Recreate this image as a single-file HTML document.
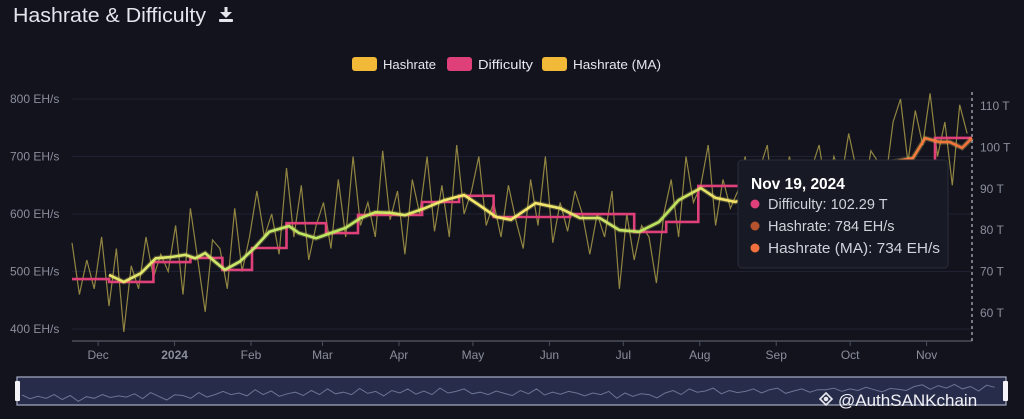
<!DOCTYPE html>
<html><head><meta charset="utf-8"><style>
html,body{margin:0;padding:0;background:#12131d;width:1024px;height:419px;overflow:hidden;font-family:"Liberation Sans",sans-serif}
svg{display:block}
</style></head><body>
<svg id="chart" width="1024" height="419" viewBox="0 0 1024 419" xmlns="http://www.w3.org/2000/svg">
<defs>
<linearGradient id="maGrad" gradientUnits="userSpaceOnUse" x1="72" y1="0" x2="972" y2="0">
<stop offset="0" stop-color="#f4e36a"/><stop offset="0.18" stop-color="#c9e86a"/><stop offset="0.3" stop-color="#b8e65e"/>
<stop offset="0.42" stop-color="#f3e96a"/><stop offset="0.52" stop-color="#f5e66e"/><stop offset="0.6" stop-color="#c8e466"/>
<stop offset="0.66" stop-color="#b6e25c"/><stop offset="0.72" stop-color="#f1e36a"/><stop offset="0.86" stop-color="#f5b24a"/>
<stop offset="0.92" stop-color="#f57e3e"/><stop offset="1" stop-color="#f2703c"/></linearGradient>
</defs>
<text x="13" y="22" fill="#e4e6ec" font-size="20.5" textLength="193" lengthAdjust="spacingAndGlyphs">Hashrate &amp; Difficulty</text>
<g fill="#e4e6ec"><rect x="224.5" y="7" width="3" height="8"/><polygon points="220,12 232,12 226,18"/><rect x="219" y="19" width="14" height="3" rx="1"/></g>
<g id="legend"></g>
<g id="grid"></g>
<g id="plot"></g>
<g id="tooltip">
<rect x="738" y="160" width="210" height="108" rx="4" fill="#171a24" stroke="#2a2e3a"/>
<text x="751" y="189" fill="#ffffff" font-size="15.5" font-weight="bold">Nov 19, 2024</text>
<circle cx="755" cy="204" r="4.5" fill="#e0407a"/><text x="768" y="209" fill="#cfd2da" font-size="14.5">Difficulty: 102.29 T</text>
<circle cx="755" cy="226" r="4.5" fill="#b5532e"/><text x="768" y="231" fill="#cfd2da" font-size="14.5">Hashrate: 784 EH/s</text>
<circle cx="755" cy="248" r="4.5" fill="#f2703c"/><text x="768" y="253" fill="#cfd2da" font-size="14.5" textLength="172" lengthAdjust="spacingAndGlyphs">Hashrate (MA): 734 EH/s</text>
</g>
<g id="nav"></g>
<g>
<g fill="none" stroke="#e8e8ee" stroke-width="1.6"><polygon points="826,393 832,399 826,405 820,399"/><circle cx="826" cy="399" r="1.5" fill="#e8e8ee"/></g>
<text x="838" y="406" fill="#f2f2f6" font-size="17">@AuthSANKchain</text></g>
</svg>
<script>
const startDate = "2023-11-20";
const monthLabels = ["Dec","2024","Feb","Mar","Apr","May","Jun","Jul","Aug","Sep","Oct","Nov"];
const monthDays = [10.6,41.6,72.6,101.6,132.6,162.6,193.6,223.6,254.6,285.6,315.6,346.6];
const leftTicks = [400,500,600,700,800];
const rightTicks = [60,70,80,90,100,110];
const hashStep = 3;
const hashrate = [550,460,520,470,560,440,540,395,510,470,
560,490,530,500,580,460,610,520,430,555,
540,470,610,500,560,640,560,600,530,680,
560,650,520,580,620,540,660,560,700,580,
620,560,710,590,640,530,660,600,700,570,
650,560,720,600,640,700,580,620,560,650,
590,540,660,580,700,550,620,570,640,600,
530,600,560,640,470,600,520,580,560,480,
600,660,560,700,620,650,720,580,660,610,
640,700,600,680,720,590,650,700,620,680,
680,720,640,700,660,740,680,630,710,690,
660,760,800,690,780,720,810,700,760,650,
790,740];
const maDays = [15,21,28,34,40,46,50,54,58,62,68,74,80,88,92,99,105,111,117,123,129,135,143,151,159,165,172,178,188,198,206,214,222,230,238,246,255,261,269,280,295,310,325,341,346,352,356,361,365];
const maValues = [494,482,497,523,525,529,523,532,517,503,517,541,569,579,567,558,567,576,593,603,602,598,610,624,633,616,595,590,619,610,593,593,572,569,586,624,645,628,621,635,655,670,685,697,732,725,725,715,732];
const diffDays = [0,15,33,48,61,73,87,103,116,142,157,171,202,228,241,254,282,296,310,324,338,350];
const diffValues = [68.2,67.5,72.3,73.3,70.4,75.7,81.7,79.3,83.7,86.8,88.3,83.2,83.9,79.6,82.0,90.7,89.5,92.0,88.4,92.0,95.7,102.3];

const NS="http://www.w3.org/2000/svg";
const X0=72,X1=972,DAYS=365;
const xs=d=>X0+(X1-X0)*d/DAYS;
const yl=v=>99+(800-v)*(329-99)/400;
const yr=t=>106+(110-t)*(313-106)/50;
function mk(tag,attrs,parent){const e=document.createElementNS(NS,tag);for(const k in attrs)e.setAttribute(k,attrs[k]);parent.appendChild(e);return e;}
const grid=document.getElementById('grid'),plot=document.getElementById('plot'),nav=document.getElementById('nav'),legend=document.getElementById('legend');

// legend
const leg=[["Hashrate","#f2b938",352,53],["Difficulty","#e0407a",447,55],["Hashrate (MA)","#f2b938",542,88]];
leg.forEach(l=>{const g=mk('g',{},legend);


mk('rect',{x:l[2],y:57,width:25,height:14,rx:3,fill:l[1]},g);
mk('text',{x:l[2]+31,y:69,fill:'#e6e8ee','font-size':12.5,textLength:l[3],lengthAdjust:'spacingAndGlyphs'},g).textContent=l[0];});

// grid + left axis
leftTicks.forEach(v=>{const y=yl(v);
const ln=mk('line',{x1:X0,x2:X1,y1:y,y2:y,stroke:'#1f2232','stroke-width':1},grid);


const t=mk('text',{x:10,y:y+4,fill:'#8a8e9c','font-size':12},grid);


t.textContent=v+" EH/s";});
rightTicks.forEach(v=>{const t=mk('text',{x:980,y:yr(v)+4,fill:'#8a8e9c','font-size':12},grid);


t.textContent=v+" T";});
const ax=mk('line',{x1:X0,x2:X1,y1:341,y2:341,stroke:'#4a4e5c','stroke-width':1.5},grid);


monthLabels.forEach((m,i)=>{const x=xs(monthDays[i]);
mk('line',{x1:x,x2:x,y1:341,y2:346,stroke:'#4a4e5c'},grid);
const t=mk('text',{x:x,y:359,fill:'#8a8e9c','font-size':12,'text-anchor':'middle','font-weight':m==='2024'?'bold':'normal'},grid);


t.textContent=m;});
const dash=mk('line',{x1:X1,x2:X1,y1:92,y2:341,stroke:'#b8bcc8','stroke-dasharray':'3,3','stroke-width':1.2},grid);



// hashrate raw
let d='';hashrate.forEach((v,i)=>{d+=(i?'L':'M')+xs(i*hashStep).toFixed(1)+','+yl(v).toFixed(1);});
const hp=mk('path',{d:d,fill:'none',stroke:'#a89a48','stroke-width':1.2,'stroke-opacity':0.85},plot);



// difficulty steps
d='';diffDays.forEach((dd,i)=>{const x=xs(dd),y=yr(diffValues[i]);d+=(i?'L'+x.toFixed(1)+','+yr(diffValues[i-1]).toFixed(1)+'L':'M')+x.toFixed(1)+','+y.toFixed(1);});
d+='L'+xs(DAYS)+','+yr(diffValues[diffValues.length-1]).toFixed(1);
const dp=mk('path',{d:d,fill:'none',stroke:'#e0407a','stroke-width':2.6},plot);



// MA
d='';maDays.forEach((dd,i)=>{d+=(i?'L':'M')+xs(dd).toFixed(1)+','+yl(maValues[i]).toFixed(1);});
mk('path',{d:d,fill:'none',stroke:'#f5e66e','stroke-width':5,'stroke-opacity':0.25},plot);
const mp=mk('path',{d:d,fill:'none',stroke:'url(#maGrad)','stroke-width':2.6},plot);



// navigator
const nb=mk('rect',{x:17,y:377,width:989,height:28,fill:'#262c4a',stroke:'#a8aec4','stroke-width':1.2},nav);


d='';hashrate.forEach((v,i)=>{d+=(i?'L':'M')+(22+978*i*hashStep/DAYS).toFixed(1)+','+(402-(v-380)/440*18).toFixed(1);});
mk('path',{d:d,fill:'none',stroke:'#6c7494','stroke-width':1},nav);
[15,1003].forEach(x=>{const h=mk('rect',{x:x,y:381,width:5,height:20,rx:1,fill:'#f4f4f8'},nav);

});
</script>
</body></html>
